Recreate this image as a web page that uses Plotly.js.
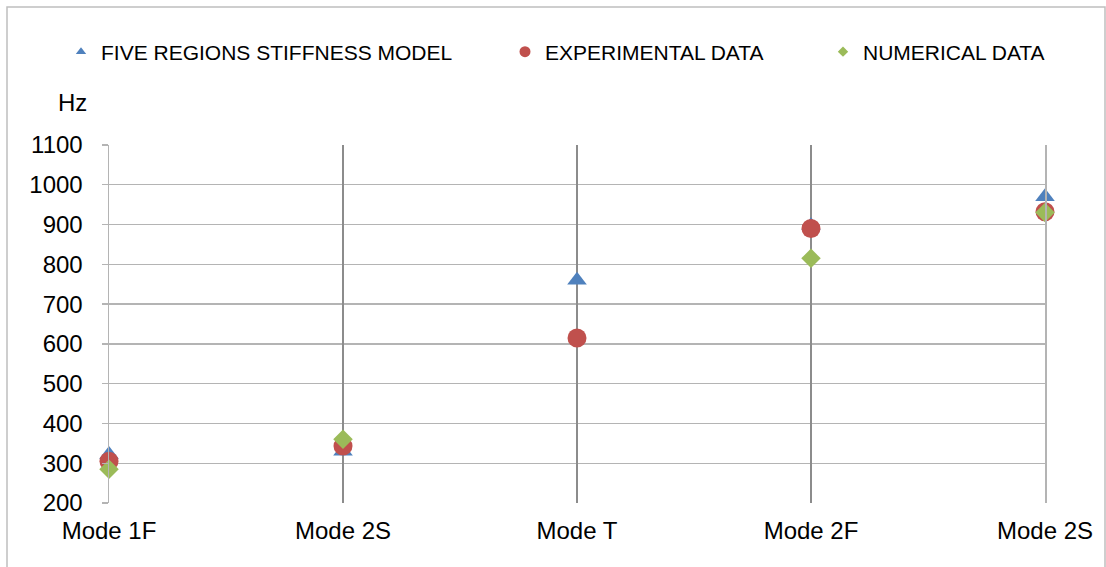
<!DOCTYPE html>
<html>
<head>
<meta charset="utf-8">
<script src="https://cdn.plot.ly/plotly-3.0.1.min.js"></script>
<style>html,body{margin:0;padding:0;background:#fff;}#chart{width:1106px;height:567px;}</style>
</head>
<body>
<div id="chart"></div>
<script>
const categories = ["Mode 1F", "Mode 2S", "Mode T", "Mode 2F", "Mode 2S"];
const fiveRegions = [322, 330, 760, 897, 970];
const experimental = [305, 343, 615, 890, 932];
const numerical = [285, 360, null, 815, 930];
const yTicks = [200, 300, 400, 500, 600, 700, 800, 900, 1000, 1100];
const seriesNames = ["FIVE REGIONS STIFFNESS MODEL", "EXPERIMENTAL DATA", "NUMERICAL DATA"];

const xIdx = categories.map((c, i) => i);
const innerIdx = xIdx.slice(1, -1);
const colors = ["#4f81bd", "#c0504d", "#9bbb59"];
const symbols = ["triangle-up", "circle", "diamond"];
const sizes = [17, 19, 15];
const legendSizes = [9, 11, 8];
const seriesData = [fiveRegions, experimental, numerical];
const legendIds = ["legend", "legend2", "legend3"];
const legendX = [61, 505, 823];

const traces = [];
// invisible helper trace so the grid-only category axis is rendered
traces.push({
  type: "scatter", mode: "markers", x: [null], y: [null], xaxis: "x2", yaxis: "y",
  showlegend: false, hoverinfo: "skip", marker: {opacity: 0}
});
seriesData.forEach((vals, k) => {
  traces.push({
    type: "scatter", mode: "markers", x: xIdx, y: vals, name: seriesNames[k],
    showlegend: false, cliponaxis: false,
    marker: {symbol: symbols[k], color: colors[k], size: sizes[k], line: {width: 0}},
    hoverinfo: "x+y"
  });
});
seriesData.forEach((vals, k) => {
  traces.push({
    type: "scatter", mode: "markers", x: [null], y: [null], name: seriesNames[k],
    showlegend: true, legend: legendIds[k],
    marker: {symbol: symbols[k], color: colors[k], size: legendSizes[k], line: {width: 0}}
  });
});

const fam = "Liberation Sans, Arial, sans-serif";
const font = {family: fam, size: 24, color: "#000"};
const legendBase = (k) => ({
  xref: "container", yref: "container",
  x: legendX[k] / 1106, y: 1 - 52 / 567, xanchor: "left", yanchor: "middle",
  orientation: "h", bgcolor: "rgba(0,0,0,0)", borderwidth: 0, itemwidth: 30,
  font: {family: fam, size: 21, color: "#000"},
  itemclick: false
});

const layout = {
  width: 1106, height: 567,
  margin: {l: 109, r: 61, t: 145, b: 64},
  paper_bgcolor: "#fff", plot_bgcolor: "#fff",
  font: font,
  showlegend: true,
  legend: legendBase(0),
  legend2: legendBase(1),
  legend3: legendBase(2),
  xaxis: {
    range: [0, 4], tickmode: "array", tickvals: xIdx, ticktext: categories,
    showgrid: false, zeroline: false, showline: false, ticks: "",
    ticklabelstandoff: 11, tickfont: font, fixedrange: true
  },
  xaxis2: {
    overlaying: "x", side: "bottom", range: [0, 4], tickmode: "array", tickvals: innerIdx,
    showticklabels: false, showgrid: true, gridcolor: "#8c8c8c", gridwidth: 1.5,
    zeroline: false, showline: false, ticks: "", fixedrange: true
  },
  yaxis: {
    range: [200, 1100], tickmode: "array", tickvals: yTicks,
    showgrid: true, gridcolor: "#b4b4b4", gridwidth: 1.3,
    zeroline: false, showline: true, linecolor: "#b4b4b4", linewidth: 1.5, mirror: true,
    ticks: "outside", ticklen: 6, tickcolor: "#b4b4b4", tickwidth: 1.3,
    ticklabelstandoff: 14, tickfont: font, fixedrange: true
  },
  annotations: [{
    text: "Hz", xref: "paper", yref: "paper",
    x: (72 - 109) / 936, y: (503 - 102) / 358, xanchor: "center", yanchor: "middle",
    showarrow: false, font: font
  }],
  shapes: [{
    type: "rect", xref: "paper", yref: "paper",
    x0: (7 - 109) / 936, x1: (1105 - 109) / 936,
    y0: -0.5, y1: (503 - 7) / 358,
    line: {color: "#bfbfbf", width: 1.5}, layer: "below"
  }]
};

Plotly.newPlot("chart", traces, layout, {displayModeBar: false, staticPlot: true});
</script>
</body>
</html>
